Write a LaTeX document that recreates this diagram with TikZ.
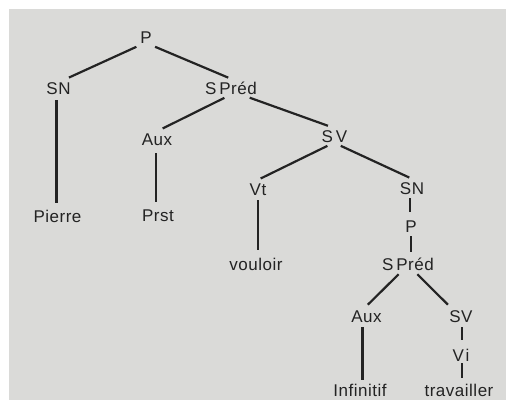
\documentclass[tikz,border=0pt]{standalone}
\usepackage{fontspec}
\setmainfont[LetterSpace=3]{Liberation Sans}
\definecolor{paper}{RGB}{218,218,216}
\definecolor{ink}{RGB}{35,35,35}
\begin{document}
\begin{tikzpicture}[x=1pt,y=-1pt,
  lab/.style={anchor=base,inner sep=3pt,text height=12pt,text depth=0pt,
              font=\fontsize{17}{19}\selectfont,text=ink},
  edge/.style={draw=ink,line width=2.2pt},
  slant/.style={edge,shorten <=1.5pt,shorten >=3pt}]
\useasboundingbox (0,0) rectangle (506,400);
\fill[white] (0,0) rectangle (506,400);
\fill[paper] (9,9) rectangle (506,400);
% nodes
\node[lab] (P)   at (146,43) {P};
\node[lab] (SN)  at (58.5,94) {SN};
\node[lab] (SP)  at (231,94) {S\,Préd};
\node[lab] (Aux) at (157,145) {Aux};
\node[lab] (SV)  at (334.5,142) {S\,V};
\node[lab] (Pi)  at (57.5,222) {Pierre};
\node[lab] (Pr)  at (158,221) {Prst};
\node[lab] (Vt)  at (258,195) {Vt};
\node[lab] (SNb) at (412,194) {SN};
\node[lab] (Pb)  at (411,232) {P};
\node[lab] (vo)  at (256,270) {vouloir};
\node[lab] (SPb) at (408,270) {S\,Préd};
\node[lab] (Auxb) at (366.5,322) {Aux};
\node[lab] (SVb) at (461,322) {SV};
\node[lab] (Vi)  at (461,361) {V\kern1.5pt i};
\node[lab] (In)  at (360,396) {Infinitif};
\node[lab] (tr)  at (459,396) {travailler};
% slanted edges
\draw[slant] (P.228) -- (SN.50);
\draw[slant] (P.-50) -- (SP.north);
\draw[slant] (SP.240) -- (Aux.72);
\draw[slant] (SP.-28) -- (SV.112);
\draw[slant] (SV.238) -- (Vt.north);
\draw[slant] (SV.-62) -- (SNb.north);
\draw[slant] (SPb.228) -- (Auxb.95);
\draw[slant] (SPb.-48) -- (SVb.140);
% vertical edges
\draw[edge] ([xshift=-2pt,yshift=-3pt]SN.south) -- ([xshift=-2pt,yshift=4pt]SN.south |- Pi.north);
\draw[edge] ([xshift=-1pt,yshift=-5pt]Aux.south) -- ([xshift=-1pt,yshift=4pt]Aux.south |- Pr.north);
\draw[edge] ([yshift=-2pt]Vt.south) -- ([yshift=5pt]Vt.south |- vo.north);
\draw[edge] ([xshift=-2pt,yshift=-1pt]SNb.south) -- ([xshift=-2pt,yshift=5pt]SNb.south |- Pb.north);
\draw[edge] ([yshift=-1pt]Pb.south) -- ([yshift=3pt]Pb.south |- SPb.north);
\draw[edge] ([xshift=-4pt,yshift=-2pt]Auxb.south) -- ([xshift=-4pt,yshift=1pt]Auxb.south |- In.north);
\draw[edge] ([xshift=1pt,yshift=-2pt]SVb.south) -- ([xshift=1pt,yshift=6pt]SVb.south |- Vi.north);
\draw[edge] ([xshift=1pt,yshift=1pt]Vi.south) -- ([xshift=1pt,yshift=3pt]Vi.south |- tr.north);
\end{tikzpicture}
\end{document}
